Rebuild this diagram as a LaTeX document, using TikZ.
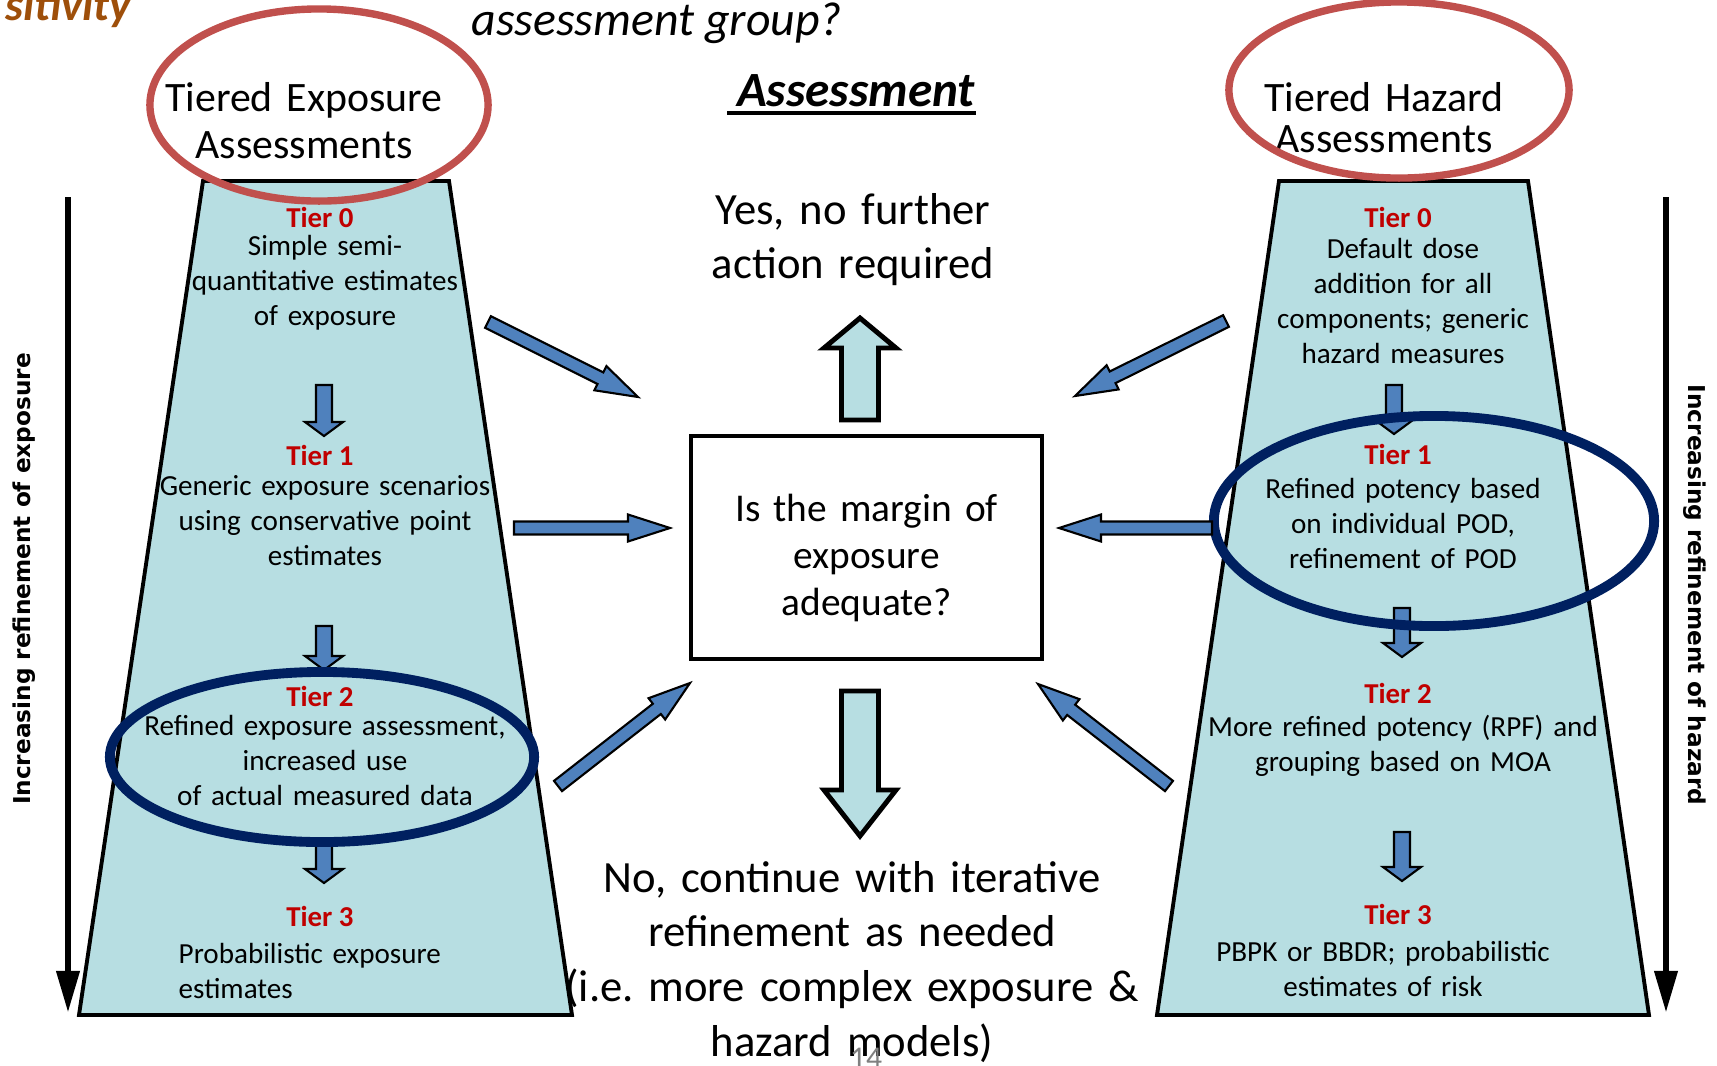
\documentclass[tikz,border=0pt]{standalone}
\usepackage{fontspec}
\setmainfont{Carlito}
\newfontfamily\tightfont{Carlito}[WordSpace=0.6]
\newfontfamily\sidefont{DejaVu Sans}
\usepackage{tikz}
\usetikzlibrary{arrows.meta}
\usetikzlibrary{calc}
\frenchspacing
\definecolor{pyramidcyan}{RGB}{183,222,226}
\definecolor{arrowblue}{RGB}{79,129,189}
\definecolor{ringred}{RGB}{192,80,77}
\definecolor{ringnavy}{RGB}{0,32,96}
\definecolor{tierred}{RGB}{192,0,0}
\definecolor{titlebrown}{RGB}{158,79,10}
\tikzstyle{pyramid}=[fill=pyramidcyan,draw=black,line width=1.1pt]
\tikzstyle{redring}=[draw=ringred,line width=2.1pt]
\tikzstyle{navyring}=[draw=ringnavy,line width=2.8pt]
\tikzstyle{tiertitle}=[inner sep=0pt,anchor=base,text=tierred,font=\fontsize{8.2}{9.96}\selectfont\bfseries]
\tikzstyle{tierbody}=[inner sep=0pt,anchor=base,align=center,text width=5cm,font=\fontsize{8.28}{9.96}\selectfont]
\tikzstyle{heading}=[inner sep=0pt,anchor=base,align=center,text width=5cm,font=\fontsize{11.9}{13.6}\selectfont]
\tikzstyle{bigtext}=[inner sep=0pt,anchor=base,align=center,text width=8cm,font=\tightfont\fontsize{12.7}{15.6}\selectfont]
\tikzstyle{qbox}=[draw=black,line width=1pt,minimum width=3.51cm,minimum height=2.23cm,inner sep=0pt]
\tikzstyle{qtext}=[inner sep=0pt,anchor=base,align=center,text width=3.2cm,font=\tightfont\fontsize{11.2}{13.5}\selectfont]
\tikzstyle{sidelabel}=[inner sep=0pt,anchor=base,font=\sidefont\fontsize{6.6}{8}\selectfont\bfseries]
\tikzstyle{sidearrow}=[line width=1.9pt,-{Triangle[length=12pt,width=6.3pt]}]
\tikzstyle{blueblock}=[fill=arrowblue,draw=black,line width=0.6pt]
\tikzstyle{cyanblock}=[fill=pyramidcyan,draw=black,line width=1.4pt]
\newcommand{\blockarrow}[6][]{%
	\coordinate (bahead) at ($(#3)!#6!(#2)$);
	\draw[#1] ($(#2)!#4!90:(#3)$) -- ($(bahead)!#4!90:(#3)$) -- ($(bahead)!#5!90:(#3)$) -- (#3)
		-- ($(bahead)!#5!-90:(#3)$) -- ($(bahead)!#4!-90:(#3)$) -- ($(#2)!#4!-90:(#3)$) -- cycle;
}

\begin{document}
\begin{tikzpicture}[x=0.01cm,y=-0.01cm]
		\useasboundingbox (0,0) rectangle (1717,1066);
		\node[inner sep=0pt,anchor=base east,text=titlebrown,font=\fontsize{13}{15}\selectfont\bfseries\itshape] (sens) at (132,20) {sitivity};
		\node[inner sep=0pt,anchor=base west,font=\fontsize{13.6}{16}\selectfont\itshape] (group) at (471,35) {assessment group?};
		\node[inner sep=0pt,anchor=base,font=\fontsize{14}{16}\selectfont\bfseries\itshape] (assess) at (856,106) {Assessment};
		\draw[line width=0.9pt] ([xshift=-2.6pt,yshift=-2pt]assess.base west) -- ([yshift=-2pt]assess.base east);
		\filldraw[pyramid] (203,181) -- (449,181) -- (572,1015) -- (79,1015) -- cycle;
		\filldraw[pyramid] (1279,181) -- (1528,181) -- (1649,1015) -- (1157,1015) -- cycle;
		\node[heading] (expo) at (304,111) {Tiered Exposure\\Assessments};
		\node[heading,font=\fontsize{11.9}{11.7}\selectfont] (haz) at (1384,111) {Tiered Hazard\\Assessments};
		\node[tiertitle] (et0) at (320,227) {Tier 0};
		\node[tierbody] (eb0) at (325,255) {Simple semi-\\quantitative estimates\\of exposure};
		\node[tiertitle] (et1) at (320,465) {Tier 1};
		\node[tierbody] (eb1) at (325,495) {Generic exposure scenarios\\using conservative point\\estimates};
		\node[tiertitle] (et2) at (320,706) {Tier 2};
		\node[tierbody] (eb2) at (325,735) {Refined exposure assessment,\\increased use\\of actual measured data};
		\node[tiertitle] (et3) at (320,926) {Tier 3};
		\node[tierbody,align=left,text width=4cm,anchor=base west] (eb3) at (178,963) {Probabilistic exposure\\estimates};
		\node[tiertitle] (ht0) at (1398,227) {Tier 0};
		\node[tierbody] (hb0) at (1403,258) {Default dose\\addition for all\\components; generic\\hazard measures};
		\node[tiertitle] (ht1) at (1398,464) {Tier 1};
		\node[tierbody] (hb1) at (1403,498) {Refined potency based\\on individual POD,\\refinement of POD};
		\node[tiertitle] (ht2) at (1398,703) {Tier 2};
		\node[tierbody] (hb2) at (1403,736) {More refined potency (RPF) and\\grouping based on MOA};
		\node[tiertitle] (ht3) at (1398,924) {Tier 3};
		\node[tierbody] (hb3) at (1383,961) {PBPK or BBDR; probabilistic\\estimates of risk};
		\coordinate (ea0) at (324,385); \coordinate (ea1) at (324,436);
		\coordinate (eb0) at (324,626); \coordinate (eb1) at (324,670);
		\coordinate (ec0) at (324,841); \coordinate (ec1) at (324,883);
		\coordinate (ha0) at (1394,385); \coordinate (ha1) at (1394,434);
		\coordinate (hb0) at (1402,608); \coordinate (hb1) at (1402,657);
		\coordinate (hc0) at (1402,832); \coordinate (hc1) at (1402,881);
		\blockarrow[blueblock]{ea0}{ea1}{0.8mm}{1.9mm}{1.4mm}
		\blockarrow[blueblock]{eb0}{eb1}{0.8mm}{1.9mm}{1.4mm}
		\blockarrow[blueblock]{ec0}{ec1}{0.8mm}{1.9mm}{1.4mm}
		\blockarrow[blueblock]{ha0}{ha1}{0.8mm}{1.9mm}{1.4mm}
		\blockarrow[blueblock]{hb0}{hb1}{0.8mm}{1.9mm}{1.4mm}
		\blockarrow[blueblock]{hc0}{hc1}{0.8mm}{1.9mm}{1.4mm}
		\draw[redring] (319,105) ellipse [x radius=16.9mm,y radius=9.6mm];
		\draw[redring] (1399,90) ellipse [x radius=17mm,y radius=8.8mm];
		\draw[navyring] (322,757) ellipse [x radius=21.2mm,y radius=8.5mm];
		\draw[navyring] (1434,521) ellipse [x radius=22mm,y radius=10.5mm];
		\node[bigtext] (yes) at (853,224) {Yes, no further\\action required};
		\node[qbox] (moe) at (866.5,547.5) {};
		\node[qtext] (moetxt) at (866.5,521) {Is the margin of\\exposure\\adequate?};
		\node[bigtext] (no) at (852,892) {No, continue with iterative\\refinement as needed\\(i.e. more complex exposure \&\\hazard models)};
		\coordinate (up0) at (860,420); \coordinate (up1) at (860,318);
		\coordinate (dn0) at (860,691); \coordinate (dn1) at (860,836);
		\blockarrow[cyanblock]{up0}{up1}{1.85mm}{3.6mm}{3mm}
		\blockarrow[cyanblock]{dn0}{dn1}{1.85mm}{3.6mm}{4.6mm}
		\coordinate (l0s) at (488,322); \coordinate (l0t) at (638,397);
		\coordinate (l1s) at (514,528); \coordinate (l1t) at (670,528);
		\coordinate (l2s) at (558,786); \coordinate (l2t) at (690,683);
		\coordinate (r0s) at (1226,321); \coordinate (r0t) at (1075,396);
		\coordinate (r1s) at (1212,528); \coordinate (r1t) at (1059,528);
		\coordinate (r2s) at (1169,786); \coordinate (r2t) at (1038,684);
		\blockarrow[blueblock]{l0s}{l0t}{0.65mm}{1.35mm}{4.2mm}
		\blockarrow[blueblock]{l1s}{l1t}{0.65mm}{1.35mm}{4.2mm}
		\blockarrow[blueblock]{l2s}{l2t}{0.65mm}{1.35mm}{4.2mm}
		\blockarrow[blueblock]{r0s}{r0t}{0.65mm}{1.35mm}{4.2mm}
		\blockarrow[blueblock]{r1s}{r1t}{0.65mm}{1.35mm}{4.2mm}
		\blockarrow[blueblock]{r2s}{r2t}{0.65mm}{1.35mm}{4.2mm}
		\coordinate (ls) at (68,197); \coordinate (lt) at (68,1013);
		\coordinate (rs) at (1666,197); \coordinate (rt) at (1666,1013);
		\draw[sidearrow] (ls) -- (lt);
		\draw[sidearrow] (rs) -- (rt);
		\node[sidelabel,rotate=90] (explab) at (31,579) {Increasing refinement of exposure};
		\node[sidelabel,rotate=-90] (hazlab) at (1688,595) {Increasing refinement of hazard};
		\node[inner sep=0pt,anchor=base,text=gray,font=\fontsize{9}{10}\selectfont] (page) at (866,1068) {14};
	\end{tikzpicture}
\end{document}
